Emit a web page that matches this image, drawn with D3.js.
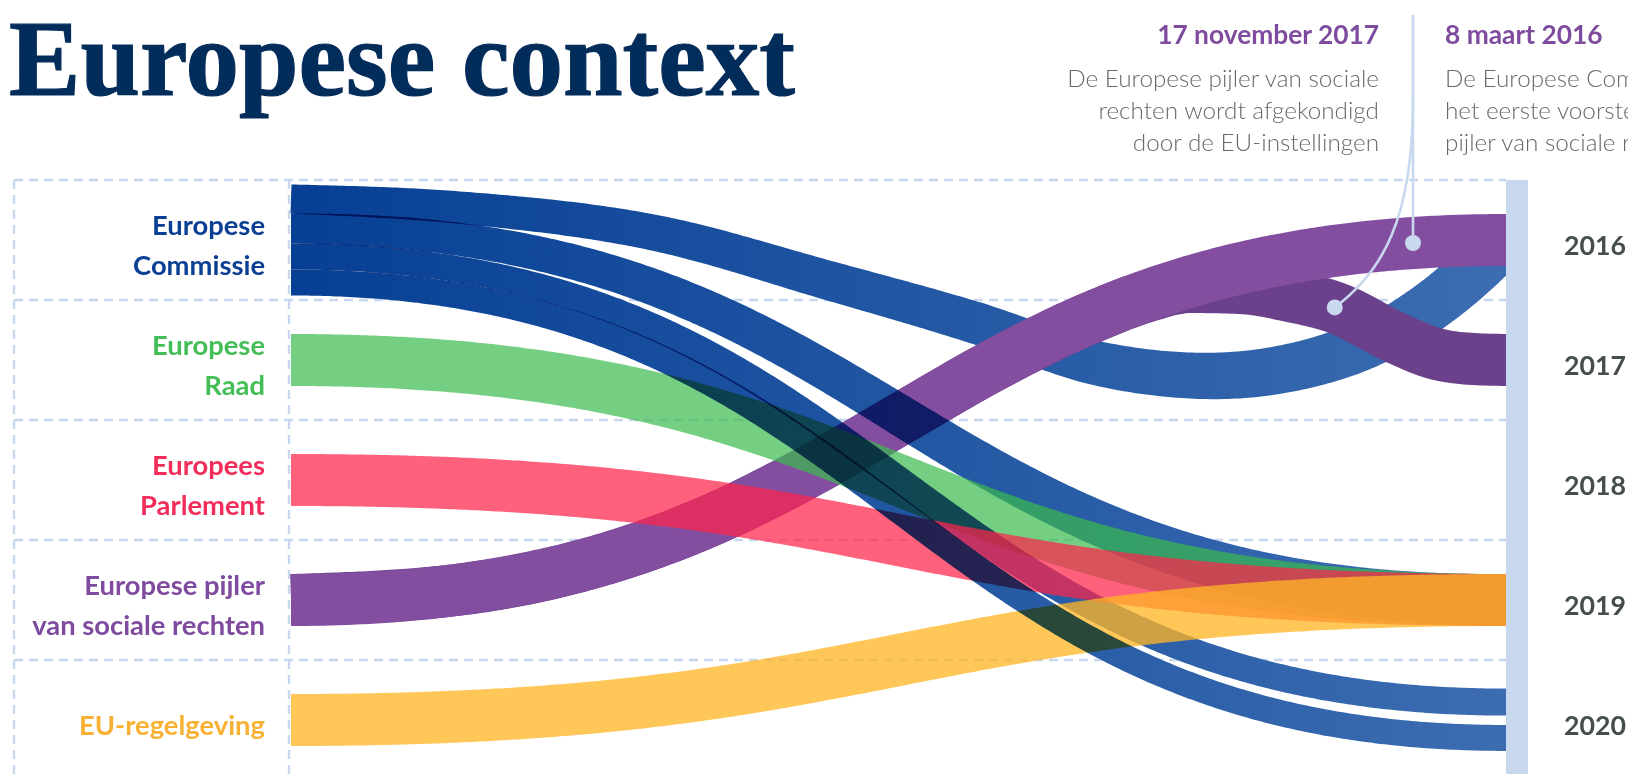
<!DOCTYPE html>
<html><head><meta charset="utf-8">
<script src="https://cdn.jsdelivr.net/npm/d3@7"></script>
<style>
html,body{margin:0;padding:0;background:#fff;overflow:hidden;}
svg{display:block;isolation:isolate;}
</style></head><body>
<svg id="chart" width="1628" height="774"></svg>
<script>
// ---------------- DATA ----------------
const categories = ["Europese Commissie","Europese Raad","Europees Parlement","Europese pijler van sociale rechten","EU-regelgeving"];
const categoryLines = [["Europese","Commissie"],["Europese","Raad"],["Europees","Parlement"],["Europese pijler","van sociale rechten"],["EU-regelgeving"]];
const years = ["2016","2017","2018","2019","2020"];

// route waypoints: [progress from left (0) to right (1), row position (0 = first row ... 4 = last row)]
const routeCommissie2016 = [[0.139,-0.27],[0.304,-0.05],[0.441,0.333],[0.561,0.683],[0.666,1.033],[0.757,1.133],[0.864,0.95],[0.947,0.483]];
const routePijler2017 = [[0.136,2.917],[0.248,2.69],[0.342,2.35],[0.424,1.94],[0.5,1.5],[0.576,1.058],[0.658,0.65],[0.703,0.475],[0.74,0.392],[0.781,0.40],[0.822,0.467],[0.858,0.558],[0.913,0.833],[0.94,0.942],[0.97,0.99]];

// value = width at the institution, valueEnd = width at the year (1 = one full band)
// srcLane / lane: stacking order at the institution / at the year (links without one share the centre)
const links = [
  {id:"ec-2016",   source:"Europese Commissie", target:"2016", value:0.56,  valueEnd:1.0,  srcLane:0, route:routeCommissie2016},
  {id:"ps-2017",   source:"Europese pijler van sociale rechten", target:"2017", value:1, valueEnd:1, route:routePijler2017},
  {id:"ps-2016",   source:"Europese pijler van sociale rechten", target:"2016", value:1, valueEnd:1},
  {id:"ec-2019",   source:"Europese Commissie", target:"2019", value:0.575, valueEnd:1.0, srcLane:1},
  {id:"raad-2019", source:"Europese Raad", target:"2019", value:1, valueEnd:1},
  {id:"ec-2020a",  source:"Europese Commissie", target:"2020", value:0.5, valueEnd:0.52, srcLane:2, lane:0},
  {id:"ep-2019",   source:"Europees Parlement", target:"2019", value:1, valueEnd:1},
  {id:"eu-2019",   source:"EU-regelgeving", target:"2019", value:1, valueEnd:1},
  {id:"ec-2020b",  source:"Europese Commissie", target:"2020", value:0.5, valueEnd:0.5, srcLane:3, lane:1}
];

const annotations = [
  {date:"17 november 2017", lines:["De Europese pijler van sociale","rechten wordt afgekondigd","door de EU-instellingen"], link:"ps-2017"},
  {date:"8 maart 2016", lines:["De Europese Commissie presenteert","het eerste voorstel voor een Europese","pijler van sociale rechten"], link:"ps-2016"}
];

// ---------------- STYLE ----------------
const labelColor = {"Europese Commissie":"#0a3f94","Europese Raad":"#44be56","Europees Parlement":"#f22d5a","Europese pijler van sociale rechten":"#7e4b9e","EU-regelgeving":"#f8b133"};
const linkFill = {"Europese Commissie":"url(#gBlue)","Europese Raad":"#3bba4d","Europees Parlement":"#ff244b","Europese pijler van sociale rechten":"#834ea0","EU-regelgeving":"#ffb526"};
const linkOpacity = {"Europese Commissie":1,"Europese Raad":0.7,"Europees Parlement":0.72,"Europese pijler van sociale rechten":1,"EU-regelgeving":0.77};
const linkBlend = {"Europese Commissie":"multiply"};
const fillOverride = {"ps-2017":"#6a418a"};
const gridColor = "#c8d8ee";

// ---------------- LAYOUT ----------------
const W = 1628, H = 774;
const svg = d3.select("#chart");
svg.append("rect").attr("width",W).attr("height",H).attr("fill","#fff");
const defs = svg.append("defs");
const gb = defs.append("linearGradient").attr("id","gBlue").attr("gradientUnits","userSpaceOnUse")
  .attr("x1",291).attr("x2",1506).attr("y1",0).attr("y2",0);
gb.append("stop").attr("offset",0).attr("stop-color","#063f94");
gb.append("stop").attr("offset",1).attr("stop-color","#3c6db1");
defs.append("clipPath").attr("id","clipLinks").append("rect").attr("x",0).attr("y",0).attr("width",1517).attr("height",H);

const rowBand = d3.scaleBand().domain(d3.range(categories.length)).range([180,780]);
const yCat = d3.scalePoint().domain(categories).range([240,720]);
const yYear = d3.scalePoint().domain(years).range([240,720]);
const yRow = d3.scaleLinear().domain([0,4]).range([240,720]);
const xProg = d3.scaleLinear().domain([0,1]).range([291,1506]);
const wScale = d3.scaleLinear().domain([0,1]).range([0,52]);
const laneStep = wScale(0.69);
const gridLeft = 14, labelRight = 289;

// grid
const grid = svg.append("g").attr("stroke",gridColor).attr("stroke-width",2.4).attr("stroke-dasharray","9 6").attr("fill","none");
d3.range(categories.length).forEach(i=>{
  grid.append("line").attr("x1",gridLeft).attr("x2",xProg(1)).attr("y1",rowBand(i)).attr("y2",rowBand(i));
});
[gridLeft,labelRight].forEach(x=>grid.append("line").attr("x1",x).attr("x2",x).attr("y1",rowBand(0)).attr("y2",H+10));

// source / target positions
categories.forEach(c=>{
  const ls = links.filter(l=>l.source===c);
  const stacked = ls.filter(l=>l.srcLane!=null).sort((a,b)=>a.srcLane-b.srcLane);
  const total = d3.sum(stacked,l=>wScale(l.value));
  let y = yCat(c) - total/2;
  stacked.forEach(l=>{ l.ys = y + wScale(l.value)/2; y += wScale(l.value); });
  ls.filter(l=>l.srcLane==null).forEach(l=>{ l.ys = yCat(c); });
});
years.forEach(yr=>{
  const ls = links.filter(l=>l.target===yr);
  if(!ls.length) return;
  const lanes = d3.max(ls,l=>l.lane??0)+1;
  ls.forEach(l=>{ l.yt = yYear(yr) + ((l.lane??0)-(lanes-1)/2)*laneStep; });
});

const x0 = xProg(0), x1 = xProg(1);
function centerPath(l){
  if(!l.route) return d3.linkHorizontal()({source:[x0,l.ys],target:[x1,l.yt]});
  const pts = [[x0,l.ys], ...l.route.map(([p,r])=>[xProg(p),yRow(r)]), [x1,l.yt]];
  return d3.line().curve(d3.curveMonotoneX)(pts);
}
const tmp = svg.append("path").attr("fill","none").attr("stroke","none");
function ribbon(l){
  tmp.attr("d",centerPath(l));
  const node = tmp.node(), L = node.getTotalLength(), N = 320;
  const pts = d3.range(N+1).map(i=>{const p=node.getPointAtLength(L*i/N);return [p.x,p.y];});
  l.center = pts.slice();
  const a=pts[N-1], b=pts[N]; const dx=b[0]-a[0], dy=b[1]-a[1], len=Math.hypot(dx,dy)||1;
  pts.push([b[0]+dx/len*10, b[1]+dy/len*10]);
  const w0=wScale(l.value), w1=wScale(l.valueEnd);
  const top=[], bot=[];
  pts.forEach((p,i)=>{
    const q0=pts[Math.max(0,i-1)], q1=pts[Math.min(pts.length-1,i+1)];
    let tx=q1[0]-q0[0], ty=q1[1]-q0[1]; const n=Math.hypot(tx,ty)||1; tx/=n; ty/=n;
    const pr=Math.max(0,Math.min(1,(p[0]-x0)/(x1-x0)));
    const hw=(w0+(w1-w0)*pr)/2;
    top.push([p[0]+ty*hw, p[1]-tx*hw]);
    bot.push([p[0]-ty*hw, p[1]+tx*hw]);
  });
  const f=p=>p[0].toFixed(2)+","+p[1].toFixed(2);
  return "M"+top.map(f).join("L")+"L"+bot.reverse().map(f).join("L")+"Z";
}

const gLinks = svg.append("g").attr("clip-path","url(#clipLinks)");
links.forEach(l=>{
  gLinks.append("path").attr("d",ribbon(l))
    .attr("fill",fillOverride[l.id]||linkFill[l.source])
    .attr("fill-opacity",linkOpacity[l.source])
    .style("mix-blend-mode",linkBlend[l.source]||"normal");
});
tmp.remove();

// right year bar
svg.append("rect").attr("x",x1).attr("y",rowBand(0)).attr("width",22).attr("height",H-rowBand(0)+10).attr("fill",gridColor);

// annotation connectors
function pointAt(id,x){
  const l=links.find(k=>k.id===id);
  return l.center.reduce((best,p)=>Math.abs(p[0]-x)<Math.abs(best[0]-x)?p:best,l.center[0]);
}
const divX = 1413, divTop = 15;
const d2016 = pointAt("ps-2016",divX);
const d2017 = pointAt("ps-2017",1333);
const gAnn = svg.append("g").attr("stroke",gridColor).attr("stroke-width",2.6).attr("fill","none");
gAnn.append("path").attr("d",`M${divX},${divTop}L${divX},${d2016[1]}`);
gAnn.append("path").attr("d",`M${divX},${divTop}L${divX},100C${divX},220 ${d2017[0]+47},${d2017[1]-35} ${d2017[0]},${d2017[1]}`);
svg.append("circle").attr("cx",divX).attr("cy",d2016[1]).attr("r",8).attr("fill",gridColor);
svg.append("circle").attr("cx",d2017[0]).attr("cy",d2017[1]).attr("r",8).attr("fill",gridColor);

// ---------------- TEXT ----------------
const SANS = "Lato, 'Noto Sans', sans-serif";
function fit(family,weight,text,target){
  const t=svg.append("text").attr("font-family",family).attr("font-weight",weight).attr("font-size",40).text(text);
  const w=t.node().getComputedTextLength(); t.remove();
  return 40*target/w;
}
// title
const titleSize = fit("'Liberation Serif', serif",700,"Europese context",786);
svg.append("text").attr("x",9).attr("y",95).attr("font-family","'Liberation Serif', serif").attr("font-weight",700)
  .attr("font-size",titleSize).attr("fill","#022c5a").attr("stroke","#022c5a").attr("stroke-width",1.2).text("Europese context");

// left labels
const labSize = fit(SANS,700,"van sociale rechten",233);
categories.forEach((c,i)=>{
  const lines = categoryLines[i];
  const t = svg.append("text").attr("text-anchor","end").attr("font-family",SANS).attr("font-weight",700)
    .attr("font-size",labSize).attr("fill",labelColor[c]);
  if(lines.length===1){
    t.append("tspan").attr("x",265).attr("y",yCat(c)+15).text(lines[0]);
  } else {
    lines.forEach((s,j)=>t.append("tspan").attr("x",265).attr("y",yCat(c)-5+40*j).text(s));
  }
});

// year labels
const yearSize = fit(SANS,700,"2017",62);
years.forEach(y=>{
  svg.append("text").attr("x",1564).attr("y",yYear(y)+15).attr("font-family",SANS).attr("font-weight",700)
    .attr("font-size",yearSize).attr("fill","#454d4d").text(y);
});

// annotations
const headSize = fit(SANS,700,annotations[0].date,222);
const bodySize = fit(SANS,300,annotations[0].lines[0],312);
annotations.forEach((a,i)=>{
  const x = i===0 ? 1379 : 1445;
  const anchor = i===0 ? "end" : "start";
  svg.append("text").attr("x",x).attr("y",44).attr("text-anchor",anchor).attr("font-family",SANS).attr("font-weight",700)
    .attr("font-size",headSize).attr("fill","#7e4b9e").text(a.date);
  a.lines.forEach((s,j)=>{
    svg.append("text").attr("x",x).attr("y",87+32*j).attr("text-anchor",anchor).attr("font-family",SANS).attr("font-weight",300)
      .attr("font-size",bodySize).attr("fill","#666a6a").text(s);
  });
});
</script>
</body></html>
